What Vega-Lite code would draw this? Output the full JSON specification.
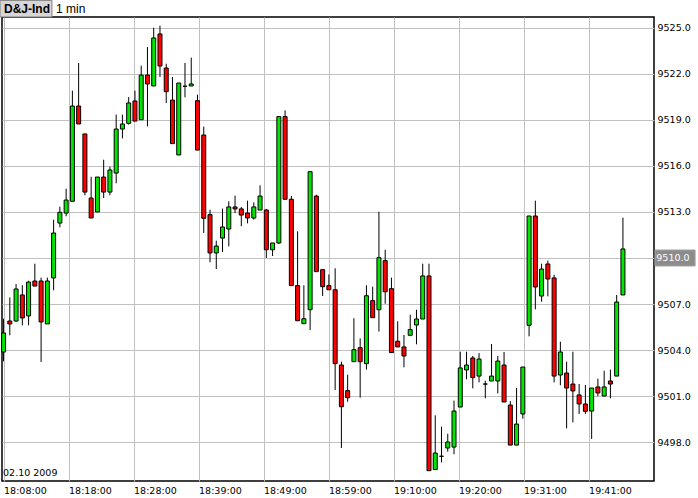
{
  "$schema": "https://vega.github.io/schema/vega-lite/v6.json",
  "autosize": {"type": "none"},
  "width": 652,
  "height": 464,
  "padding": {"left": 2, "top": 17, "right": 44, "bottom": 17},
  "background": "white",
  "config": {
    "view": {"stroke": "black", "strokeWidth": 1.5},
    "axis": {
      "labelFont": "DejaVu Sans",
      "labelFontSize": 9.5,
      "labelColor": "black",
      "domain": false,
      "ticks": false,
      "tickSize": 0,
      "grid": true,
      "gridColor": "#c0c0c0",
      "gridOpacity": 1,
      "gridWidth": 1,
      "labelOverlap": false,
      "labelFlush": false,
      "labelBound": false
    }
  },
  "data": {
    "values": [
      {"time": "2009-10-02T18:08:00Z", "open": 9503.87, "high": 9506.04, "low": 9503.26, "close": 9505.11},
      {"time": "2009-10-02T18:09:00Z", "open": 9505.89, "high": 9507.43, "low": 9504.96, "close": 9505.70},
      {"time": "2009-10-02T18:10:00Z", "open": 9505.89, "high": 9508.30, "low": 9505.85, "close": 9507.98},
      {"time": "2009-10-02T18:11:00Z", "open": 9507.59, "high": 9508.22, "low": 9505.61, "close": 9506.09},
      {"time": "2009-10-02T18:12:00Z", "open": 9506.22, "high": 9508.52, "low": 9505.61, "close": 9508.43},
      {"time": "2009-10-02T18:13:00Z", "open": 9508.50, "high": 9509.63, "low": 9508.17, "close": 9508.17},
      {"time": "2009-10-02T18:14:00Z", "open": 9508.50, "high": 9508.72, "low": 9503.22, "close": 9505.83},
      {"time": "2009-10-02T18:15:00Z", "open": 9505.70, "high": 9508.72, "low": 9505.70, "close": 9508.50},
      {"time": "2009-10-02T18:16:00Z", "open": 9508.70, "high": 9512.50, "low": 9507.89, "close": 9511.63},
      {"time": "2009-10-02T18:17:00Z", "open": 9512.28, "high": 9513.35, "low": 9512.00, "close": 9512.98},
      {"time": "2009-10-02T18:18:00Z", "open": 9512.93, "high": 9514.52, "low": 9512.72, "close": 9513.78},
      {"time": "2009-10-02T18:19:00Z", "open": 9513.70, "high": 9520.91, "low": 9513.70, "close": 9519.91},
      {"time": "2009-10-02T18:20:00Z", "open": 9519.91, "high": 9522.72, "low": 9518.74, "close": 9518.74},
      {"time": "2009-10-02T18:21:00Z", "open": 9518.09, "high": 9518.09, "low": 9514.09, "close": 9514.30},
      {"time": "2009-10-02T18:22:00Z", "open": 9513.91, "high": 9515.30, "low": 9512.61, "close": 9512.61},
      {"time": "2009-10-02T18:23:00Z", "open": 9513.00, "high": 9515.28, "low": 9513.00, "close": 9515.28},
      {"time": "2009-10-02T18:24:00Z", "open": 9515.28, "high": 9516.41, "low": 9513.91, "close": 9514.30},
      {"time": "2009-10-02T18:25:00Z", "open": 9514.30, "high": 9515.96, "low": 9514.09, "close": 9515.74},
      {"time": "2009-10-02T18:26:00Z", "open": 9515.54, "high": 9519.35, "low": 9514.87, "close": 9518.41},
      {"time": "2009-10-02T18:27:00Z", "open": 9518.41, "high": 9519.35, "low": 9517.80, "close": 9518.74},
      {"time": "2009-10-02T18:28:00Z", "open": 9518.78, "high": 9520.50, "low": 9518.70, "close": 9520.11},
      {"time": "2009-10-02T18:29:00Z", "open": 9520.24, "high": 9520.91, "low": 9518.93, "close": 9518.93},
      {"time": "2009-10-02T18:30:00Z", "open": 9519.02, "high": 9522.54, "low": 9519.02, "close": 9521.93},
      {"time": "2009-10-02T18:31:00Z", "open": 9521.93, "high": 9523.76, "low": 9518.59, "close": 9521.35},
      {"time": "2009-10-02T18:32:00Z", "open": 9521.22, "high": 9525.02, "low": 9521.22, "close": 9524.35},
      {"time": "2009-10-02T18:33:00Z", "open": 9524.61, "high": 9525.15, "low": 9521.80, "close": 9522.52},
      {"time": "2009-10-02T18:34:00Z", "open": 9522.39, "high": 9522.67, "low": 9520.11, "close": 9520.85},
      {"time": "2009-10-02T18:35:00Z", "open": 9520.30, "high": 9521.80, "low": 9517.46, "close": 9517.46},
      {"time": "2009-10-02T18:36:00Z", "open": 9516.72, "high": 9521.41, "low": 9516.72, "close": 9521.41},
      {"time": "2009-10-02T18:37:00Z", "open": 9521.20, "high": 9522.72, "low": 9520.48, "close": 9521.20},
      {"time": "2009-10-02T18:38:00Z", "open": 9521.22, "high": 9523.07, "low": 9521.22, "close": 9521.35},
      {"time": "2009-10-02T18:39:00Z", "open": 9520.26, "high": 9520.65, "low": 9517.04, "close": 9517.04},
      {"time": "2009-10-02T18:40:00Z", "open": 9518.02, "high": 9518.57, "low": 9511.63, "close": 9512.59},
      {"time": "2009-10-02T18:41:00Z", "open": 9512.83, "high": 9513.15, "low": 9509.72, "close": 9510.33},
      {"time": "2009-10-02T18:42:00Z", "open": 9510.33, "high": 9511.13, "low": 9509.28, "close": 9510.78},
      {"time": "2009-10-02T18:43:00Z", "open": 9511.30, "high": 9513.22, "low": 9510.39, "close": 9512.02},
      {"time": "2009-10-02T18:44:00Z", "open": 9511.89, "high": 9513.70, "low": 9510.76, "close": 9513.33},
      {"time": "2009-10-02T18:45:00Z", "open": 9513.33, "high": 9514.07, "low": 9512.93, "close": 9513.20},
      {"time": "2009-10-02T18:46:00Z", "open": 9513.20, "high": 9513.33, "low": 9512.07, "close": 9512.80},
      {"time": "2009-10-02T18:47:00Z", "open": 9512.93, "high": 9513.74, "low": 9512.26, "close": 9512.61},
      {"time": "2009-10-02T18:48:00Z", "open": 9512.61, "high": 9513.63, "low": 9512.50, "close": 9513.33},
      {"time": "2009-10-02T18:49:00Z", "open": 9513.13, "high": 9514.74, "low": 9513.13, "close": 9514.04},
      {"time": "2009-10-02T18:50:00Z", "open": 9513.13, "high": 9513.20, "low": 9510.00, "close": 9510.54},
      {"time": "2009-10-02T18:51:00Z", "open": 9510.54, "high": 9510.98, "low": 9510.13, "close": 9510.98},
      {"time": "2009-10-02T18:52:00Z", "open": 9510.98, "high": 9519.22, "low": 9510.91, "close": 9519.22},
      {"time": "2009-10-02T18:53:00Z", "open": 9519.22, "high": 9519.63, "low": 9513.83, "close": 9513.83},
      {"time": "2009-10-02T18:54:00Z", "open": 9513.83, "high": 9514.04, "low": 9508.20, "close": 9508.20},
      {"time": "2009-10-02T18:55:00Z", "open": 9508.20, "high": 9511.74, "low": 9505.91, "close": 9505.91},
      {"time": "2009-10-02T18:56:00Z", "open": 9505.72, "high": 9508.22, "low": 9505.72, "close": 9506.04},
      {"time": "2009-10-02T18:57:00Z", "open": 9506.63, "high": 9515.63, "low": 9505.30, "close": 9515.63},
      {"time": "2009-10-02T18:58:00Z", "open": 9514.04, "high": 9514.13, "low": 9509.11, "close": 9509.11},
      {"time": "2009-10-02T18:59:00Z", "open": 9509.24, "high": 9509.24, "low": 9507.52, "close": 9508.13},
      {"time": "2009-10-02T19:00:00Z", "open": 9508.20, "high": 9508.93, "low": 9507.93, "close": 9507.93},
      {"time": "2009-10-02T19:01:00Z", "open": 9507.93, "high": 9509.33, "low": 9501.39, "close": 9503.11},
      {"time": "2009-10-02T19:02:00Z", "open": 9503.02, "high": 9503.24, "low": 9497.61, "close": 9500.30},
      {"time": "2009-10-02T19:03:00Z", "open": 9501.35, "high": 9502.39, "low": 9500.63, "close": 9500.89},
      {"time": "2009-10-02T19:04:00Z", "open": 9503.24, "high": 9506.07, "low": 9503.24, "close": 9504.02},
      {"time": "2009-10-02T19:05:00Z", "open": 9504.15, "high": 9504.76, "low": 9500.89, "close": 9503.24},
      {"time": "2009-10-02T19:06:00Z", "open": 9503.11, "high": 9508.22, "low": 9502.72, "close": 9507.54},
      {"time": "2009-10-02T19:07:00Z", "open": 9507.22, "high": 9508.13, "low": 9506.11, "close": 9506.11},
      {"time": "2009-10-02T19:08:00Z", "open": 9506.63, "high": 9513.02, "low": 9505.20, "close": 9510.02},
      {"time": "2009-10-02T19:09:00Z", "open": 9509.83, "high": 9510.54, "low": 9507.02, "close": 9507.80},
      {"time": "2009-10-02T19:10:00Z", "open": 9508.00, "high": 9508.72, "low": 9503.83, "close": 9503.83},
      {"time": "2009-10-02T19:11:00Z", "open": 9504.57, "high": 9505.87, "low": 9504.20, "close": 9504.20},
      {"time": "2009-10-02T19:12:00Z", "open": 9504.20, "high": 9504.98, "low": 9502.87, "close": 9503.61},
      {"time": "2009-10-02T19:13:00Z", "open": 9504.96, "high": 9506.30, "low": 9504.90, "close": 9505.33},
      {"time": "2009-10-02T19:14:00Z", "open": 9505.63, "high": 9506.63, "low": 9504.37, "close": 9506.02},
      {"time": "2009-10-02T19:15:00Z", "open": 9506.02, "high": 9509.63, "low": 9506.02, "close": 9508.83},
      {"time": "2009-10-02T19:16:00Z", "open": 9508.83, "high": 9509.63, "low": 9496.13, "close": 9496.13},
      {"time": "2009-10-02T19:17:00Z", "open": 9496.20, "high": 9499.74, "low": 9496.20, "close": 9497.28},
      {"time": "2009-10-02T19:18:00Z", "open": 9497.07, "high": 9499.00, "low": 9496.67, "close": 9497.07},
      {"time": "2009-10-02T19:19:00Z", "open": 9497.61, "high": 9498.54, "low": 9497.37, "close": 9498.00},
      {"time": "2009-10-02T19:20:00Z", "open": 9497.67, "high": 9500.70, "low": 9497.20, "close": 9500.02},
      {"time": "2009-10-02T19:21:00Z", "open": 9500.28, "high": 9503.89, "low": 9500.28, "close": 9502.83},
      {"time": "2009-10-02T19:22:00Z", "open": 9502.70, "high": 9503.89, "low": 9502.09, "close": 9503.02},
      {"time": "2009-10-02T19:23:00Z", "open": 9503.48, "high": 9503.61, "low": 9501.50, "close": 9502.20},
      {"time": "2009-10-02T19:24:00Z", "open": 9502.30, "high": 9503.80, "low": 9501.89, "close": 9503.41},
      {"time": "2009-10-02T19:25:00Z", "open": 9501.78, "high": 9502.00, "low": 9500.85, "close": 9501.78},
      {"time": "2009-10-02T19:26:00Z", "open": 9501.98, "high": 9504.39, "low": 9501.98, "close": 9502.30},
      {"time": "2009-10-02T19:27:00Z", "open": 9501.98, "high": 9503.61, "low": 9501.17, "close": 9503.28},
      {"time": "2009-10-02T19:28:00Z", "open": 9503.02, "high": 9503.87, "low": 9500.61, "close": 9500.61},
      {"time": "2009-10-02T19:29:00Z", "open": 9500.41, "high": 9500.67, "low": 9497.80, "close": 9497.80},
      {"time": "2009-10-02T19:30:00Z", "open": 9497.80, "high": 9501.52, "low": 9497.80, "close": 9499.17},
      {"time": "2009-10-02T19:31:00Z", "open": 9499.83, "high": 9502.89, "low": 9499.52, "close": 9502.89},
      {"time": "2009-10-02T19:32:00Z", "open": 9505.61, "high": 9512.74, "low": 9504.89, "close": 9512.74},
      {"time": "2009-10-02T19:33:00Z", "open": 9512.74, "high": 9513.74, "low": 9506.65, "close": 9508.11},
      {"time": "2009-10-02T19:34:00Z", "open": 9507.52, "high": 9509.63, "low": 9507.15, "close": 9509.28},
      {"time": "2009-10-02T19:35:00Z", "open": 9509.61, "high": 9509.83, "low": 9507.50, "close": 9508.63},
      {"time": "2009-10-02T19:36:00Z", "open": 9508.70, "high": 9508.91, "low": 9501.89, "close": 9502.30},
      {"time": "2009-10-02T19:37:00Z", "open": 9502.37, "high": 9504.54, "low": 9501.70, "close": 9503.87},
      {"time": "2009-10-02T19:38:00Z", "open": 9502.50, "high": 9503.24, "low": 9498.89, "close": 9501.52},
      {"time": "2009-10-02T19:39:00Z", "open": 9501.78, "high": 9503.89, "low": 9499.28, "close": 9501.33},
      {"time": "2009-10-02T19:40:00Z", "open": 9501.07, "high": 9501.78, "low": 9499.83, "close": 9500.48},
      {"time": "2009-10-02T19:41:00Z", "open": 9500.48, "high": 9501.72, "low": 9499.83, "close": 9500.00},
      {"time": "2009-10-02T19:42:00Z", "open": 9500.02, "high": 9501.52, "low": 9498.20, "close": 9501.52},
      {"time": "2009-10-02T19:43:00Z", "open": 9501.59, "high": 9502.13, "low": 9500.98, "close": 9501.20},
      {"time": "2009-10-02T19:44:00Z", "open": 9501.00, "high": 9502.65, "low": 9501.00, "close": 9501.59},
      {"time": "2009-10-02T19:45:00Z", "open": 9501.98, "high": 9502.72, "low": 9500.85, "close": 9501.78},
      {"time": "2009-10-02T19:46:00Z", "open": 9502.30, "high": 9507.59, "low": 9502.30, "close": 9507.13},
      {"time": "2009-10-02T19:47:00Z", "open": 9507.59, "high": 9512.63, "low": 9507.59, "close": 9510.59}
    ]
  },
  "layer": [
    {
      "mark": {"type": "rule", "color": "black", "strokeWidth": 1},
      "encoding": {
        "x": {
          "field": "time",
          "type": "temporal",
          "scale": {
            "type": "utc",
            "nice": false,
            "padding": 0,
            "domain": [
              {"year": 2009, "month": 10, "date": 2, "hours": 18, "minutes": 7, "seconds": 45, "utc": true},
              {"year": 2009, "month": 10, "date": 2, "hours": 19, "minutes": 51, "seconds": 58, "utc": true}
            ]
          },
          "axis": {
            "title": null,
            "orient": "bottom",
            "format": "%H:%M:00",
            "labelAlign": "left",
            "labelBaseline": "top",
            "labelPadding": 4,
            "values": [
              {"year": 2009, "month": 10, "date": 2, "hours": 18, "minutes": 8, "seconds": 0, "utc": true},
              {"year": 2009, "month": 10, "date": 2, "hours": 18, "minutes": 18, "seconds": 23, "milliseconds": 400, "utc": true},
              {"year": 2009, "month": 10, "date": 2, "hours": 18, "minutes": 28, "seconds": 46, "milliseconds": 800, "utc": true},
              {"year": 2009, "month": 10, "date": 2, "hours": 18, "minutes": 39, "seconds": 10, "milliseconds": 200, "utc": true},
              {"year": 2009, "month": 10, "date": 2, "hours": 18, "minutes": 49, "seconds": 33, "milliseconds": 600, "utc": true},
              {"year": 2009, "month": 10, "date": 2, "hours": 18, "minutes": 59, "seconds": 57, "utc": true},
              {"year": 2009, "month": 10, "date": 2, "hours": 19, "minutes": 10, "seconds": 20, "milliseconds": 400, "utc": true},
              {"year": 2009, "month": 10, "date": 2, "hours": 19, "minutes": 20, "seconds": 43, "milliseconds": 800, "utc": true},
              {"year": 2009, "month": 10, "date": 2, "hours": 19, "minutes": 31, "seconds": 7, "milliseconds": 200, "utc": true},
              {"year": 2009, "month": 10, "date": 2, "hours": 19, "minutes": 41, "seconds": 30, "milliseconds": 600, "utc": true}
            ]
          }
        },
        "y": {
          "field": "low",
          "type": "quantitative",
          "scale": {"domain": [9495.457, 9525.717], "nice": false, "zero": false, "padding": 0},
          "axis": {
            "title": null,
            "orient": "right",
            "format": ".1f",
            "labelAlign": "left",
            "labelPadding": 3,
            "labelExpr": "datum.value == 9510 ? '' : datum.label",
            "values": [9498, 9501, 9504, 9507, 9510, 9513, 9516, 9519, 9522, 9525]
          }
        },
        "y2": {"field": "high"}
      }
    },
    {
      "mark": {"type": "bar", "size": 4, "stroke": "black", "strokeWidth": 1},
      "encoding": {
        "x": {"field": "time", "type": "temporal"},
        "y": {"field": "open", "type": "quantitative"},
        "y2": {"field": "close"},
        "color": {
          "condition": {"test": "datum.close >= datum.open", "value": "#00e600"},
          "value": "#ff0000"
        }
      }
    },
    {
      "data": {"values": [{"label": "D&J-Ind"}]},
      "mark": {"type": "rect", "fill": "#d6d6d6", "stroke": "#808080", "strokeWidth": 1},
      "encoding": {
        "x": {"datum": {"year": 2009, "month": 10, "date": 2, "hours": 18, "minutes": 7, "seconds": 26, "utc": true}, "type": "temporal"},
        "x2": {"datum": {"year": 2009, "month": 10, "date": 2, "hours": 18, "minutes": 15, "seconds": 44, "utc": true}},
        "y": {"datum": 9526.8, "type": "quantitative"},
        "y2": {"datum": 9525.72}
      }
    },
    {
      "data": {"values": [{"label": "D&J-Ind"}]},
      "mark": {"type": "text", "font": "Liberation Sans", "fontSize": 12, "fontWeight": "bold", "align": "left", "baseline": "middle", "color": "black"},
      "encoding": {
        "x": {"datum": {"year": 2009, "month": 10, "date": 2, "hours": 18, "minutes": 8, "seconds": 4, "utc": true}, "type": "temporal"},
        "y": {"datum": 9526.24, "type": "quantitative"},
        "text": {"field": "label"}
      }
    },
    {
      "data": {"values": [{"label": "1 min"}]},
      "mark": {"type": "text", "font": "Liberation Sans", "fontSize": 12, "align": "left", "baseline": "middle", "color": "black"},
      "encoding": {
        "x": {"datum": {"year": 2009, "month": 10, "date": 2, "hours": 18, "minutes": 16, "seconds": 23, "utc": true}, "type": "temporal"},
        "y": {"datum": 9526.24, "type": "quantitative"},
        "text": {"field": "label"}
      }
    },
    {
      "data": {"values": [{"label": "02.10 2009"}]},
      "mark": {"type": "text", "font": "DejaVu Sans", "fontSize": 9.5, "align": "left", "baseline": "middle", "color": "black"},
      "encoding": {
        "x": {"datum": {"year": 2009, "month": 10, "date": 2, "hours": 18, "minutes": 7, "seconds": 55, "utc": true}, "type": "temporal"},
        "y": {"datum": 9496.0, "type": "quantitative"},
        "text": {"field": "label"}
      }
    },
    {
      "data": {"values": [{"price": 9510.0}]},
      "mark": {"type": "rect", "fill": "#8c8c8c", "stroke": "#a0a0a0", "strokeWidth": 1},
      "encoding": {
        "x": {"datum": {"year": 2009, "month": 10, "date": 2, "hours": 19, "minutes": 52, "seconds": 8, "utc": true}, "type": "temporal"},
        "x2": {"datum": {"year": 2009, "month": 10, "date": 2, "hours": 19, "minutes": 58, "seconds": 32, "utc": true}},
        "y": {"datum": 9510.52, "type": "quantitative"},
        "y2": {"datum": 9509.48}
      }
    },
    {
      "data": {"values": [{"price": 9510.0}]},
      "mark": {"type": "text", "font": "DejaVu Sans", "fontSize": 9.5, "align": "left", "baseline": "middle", "color": "white"},
      "encoding": {
        "x": {"datum": {"year": 2009, "month": 10, "date": 2, "hours": 19, "minutes": 52, "seconds": 20, "utc": true}, "type": "temporal"},
        "y": {"field": "price", "type": "quantitative"},
        "text": {"field": "price", "type": "quantitative", "format": ".1f"}
      }
    }
  ]
}
